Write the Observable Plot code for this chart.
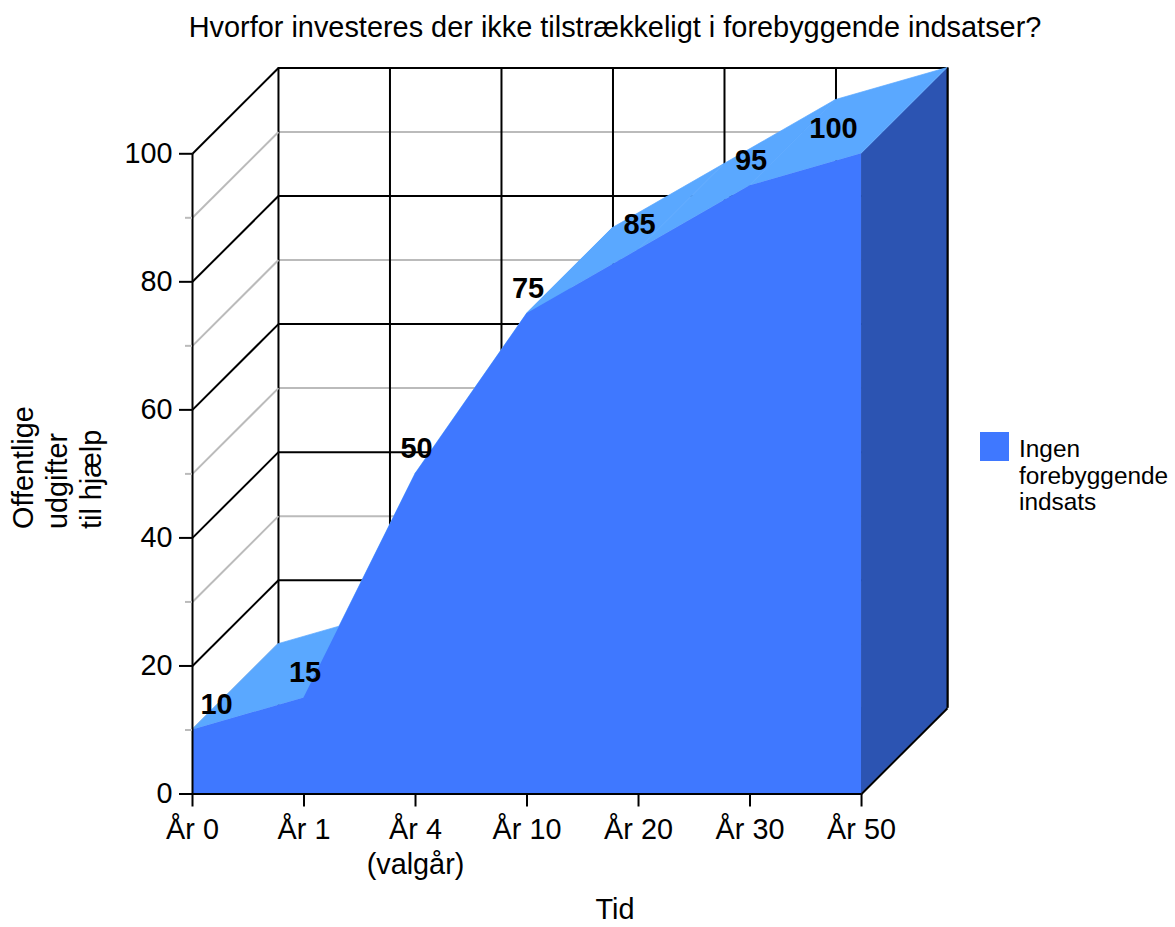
<!DOCTYPE html>
<html lang="da">
<head>
<meta charset="utf-8">
<script src="https://cdn.jsdelivr.net/npm/d3@7"></script>
<script src="https://cdn.jsdelivr.net/npm/@observablehq/plot@0.6"></script>
<style>
  html, body { margin: 0; padding: 0; background: #fff; font-family: "Liberation Sans", Arial, sans-serif; color: #000; }
  #stage { position: relative; width: 1175px; height: 927px; overflow: hidden; }
  #stage svg { display: block; }
  #title { position: absolute; left: 0; top: 10px; width: 1230px; text-align: center; font-size: 28.9px; line-height: 34px; white-space: nowrap; }
  #xLabel { position: absolute; left: 590px; top: 896px; width: 50px; text-align: center; font-size: 28.8px; line-height: 27px; }
  #legend { position: absolute; left: 980px; top: 432px; display: flex; align-items: flex-start; }
  #swatch { width: 29px; height: 29px; background: #3f78ff; margin-right: 10px; flex: none; }
  #legendText { font-size: 24.4px; line-height: 26.5px; white-space: pre; margin-top: 4px; }
</style>
</head>
<body>
<div id="stage">
  <div id="title"></div>
  <div id="chart"></div>
  <div id="xLabel"></div>
  <div id="legend"><div id="swatch"></div><div id="legendText"></div></div>
</div>
<script>
const titleText = "Hvorfor investeres der ikke tilstrækkeligt i forebyggende indsatser?";
const categories = ["År 0", "År 1", "År 4\n(valgår)", "År 10", "År 20", "År 30", "År 50"];
const values = [10, 15, 50, 75, 85, 95, 100];
const seriesName = "Ingen\nforebyggende\nindsats";
const yLabel = "Offentlige\nudgifter\ntil hjælp";
const xLabel = "Tid";
const majorTicks = [0, 20, 40, 60, 80, 100];
const minorTicks = [10, 30, 50, 70, 90];

document.getElementById("title").textContent = titleText;
document.getElementById("legendText").textContent = seriesName;
document.getElementById("xLabel").textContent = xLabel;

const depthX = 0.771;
const depthY = 13.4;
const last = categories.length - 1;
const idx = categories.map((_, i) => i);
const rows = values.map((v, i) => ({i, v}));
// one ribbon piece per segment, so that pieces of opposite winding do not cancel out
const ribbon = rows.slice(1).flatMap((d, k) => [{...rows[k], seg: k}, {...d, seg: k}]);

const black = "#000";
const gray = "#bbbbbb";
const front = "#3f78ff", top_ = "#5aa8ff", side = "#2c54b2";
const font = {fontSize: 28.8};

const wallH = (ticks, stroke) => Plot.ruleY(ticks, {y: d => d + depthY, x1: depthX, x2: last + depthX, stroke, strokeWidth: 2});
const wallD = (ticks, stroke) => Plot.link(ticks, {x1: 0, y1: d => d, x2: depthX, y2: d => d + depthY, stroke, strokeWidth: 2});

const valueLabel = (subset, dx) => Plot.text(subset, {
  x: "i", y: "v", text: d => String(d.v), dx, dy: -25,
  fontSize: 29, fontWeight: "bold", fill: black
});

const chart = Plot.plot({
  width: 1175, height: 927,
  marginLeft: 192, marginRight: 228, marginTop: 67.5, marginBottom: 133.5,
  style: {fontFamily: "'Liberation Sans', Arial, sans-serif", background: "transparent", overflow: "visible"},
  x: {type: "linear", domain: [0, last + depthX], axis: null},
  y: {type: "linear", domain: [0, 100 + depthY], axis: null},
  marks: [
    // back wall
    wallH(minorTicks, gray),
    wallH(majorTicks, black),
    Plot.ruleX(idx, {x: d => d + depthX, y1: depthY, y2: 100 + depthY, stroke: black, strokeWidth: 2}),
    // left wall
    wallD(minorTicks, gray),
    wallD(majorTicks, black),
    // right side
    Plot.area([0, 100], {x1: last, y1: d => d, x2: last + depthX, y2: d => d + depthY, fill: side}),
    Plot.ruleX([last + depthX], {y1: depthY, y2: 100 + depthY, stroke: black, strokeWidth: 2}),
    Plot.link([0], {x1: last, y1: 0, x2: last + depthX, y2: depthY, stroke: black, strokeWidth: 2}),
    // top ribbon
    Plot.area(ribbon, {x1: "i", y1: "v", x2: d => d.i + depthX, y2: d => d.v + depthY, z: "seg", fill: top_, stroke: top_, strokeWidth: 0.7}),
    // front face
    Plot.areaY(rows, {x: "i", y: "v", fill: front}),
    // axes
    Plot.ruleX([0], {y1: 0, y2: 100, stroke: black, strokeWidth: 2}),
    Plot.ruleY([0], {x1: 0, x2: last, stroke: black, strokeWidth: 2}),
    Plot.axisY({ticks: minorTicks, tickSize: 7, stroke: gray, strokeWidth: 2, fill: "none", label: null, anchor: "left"}),
    Plot.axisY({ticks: majorTicks, tickSize: 13, tickPadding: 7, strokeWidth: 2, label: null, anchor: "left", ...font}),
    Plot.axisX({ticks: idx, tickSize: 13, tickPadding: 7, strokeWidth: 2, label: null, anchor: "bottom",
      tickFormat: i => categories[i], lineHeight: 1.215, ...font}),
    // value labels
    valueLabel(rows.slice(0, 1), 24),
    valueLabel(rows.slice(1, 6), 1),
    valueLabel(rows.slice(6), -28),
    // y axis title
    Plot.text([yLabel], {text: d => d, frameAnchor: "left", rotate: -90, dx: -136, dy: 98, lineHeight: 1.18, ...font})
  ]
});
document.getElementById("chart").appendChild(chart);
</script>
</body>
</html>
